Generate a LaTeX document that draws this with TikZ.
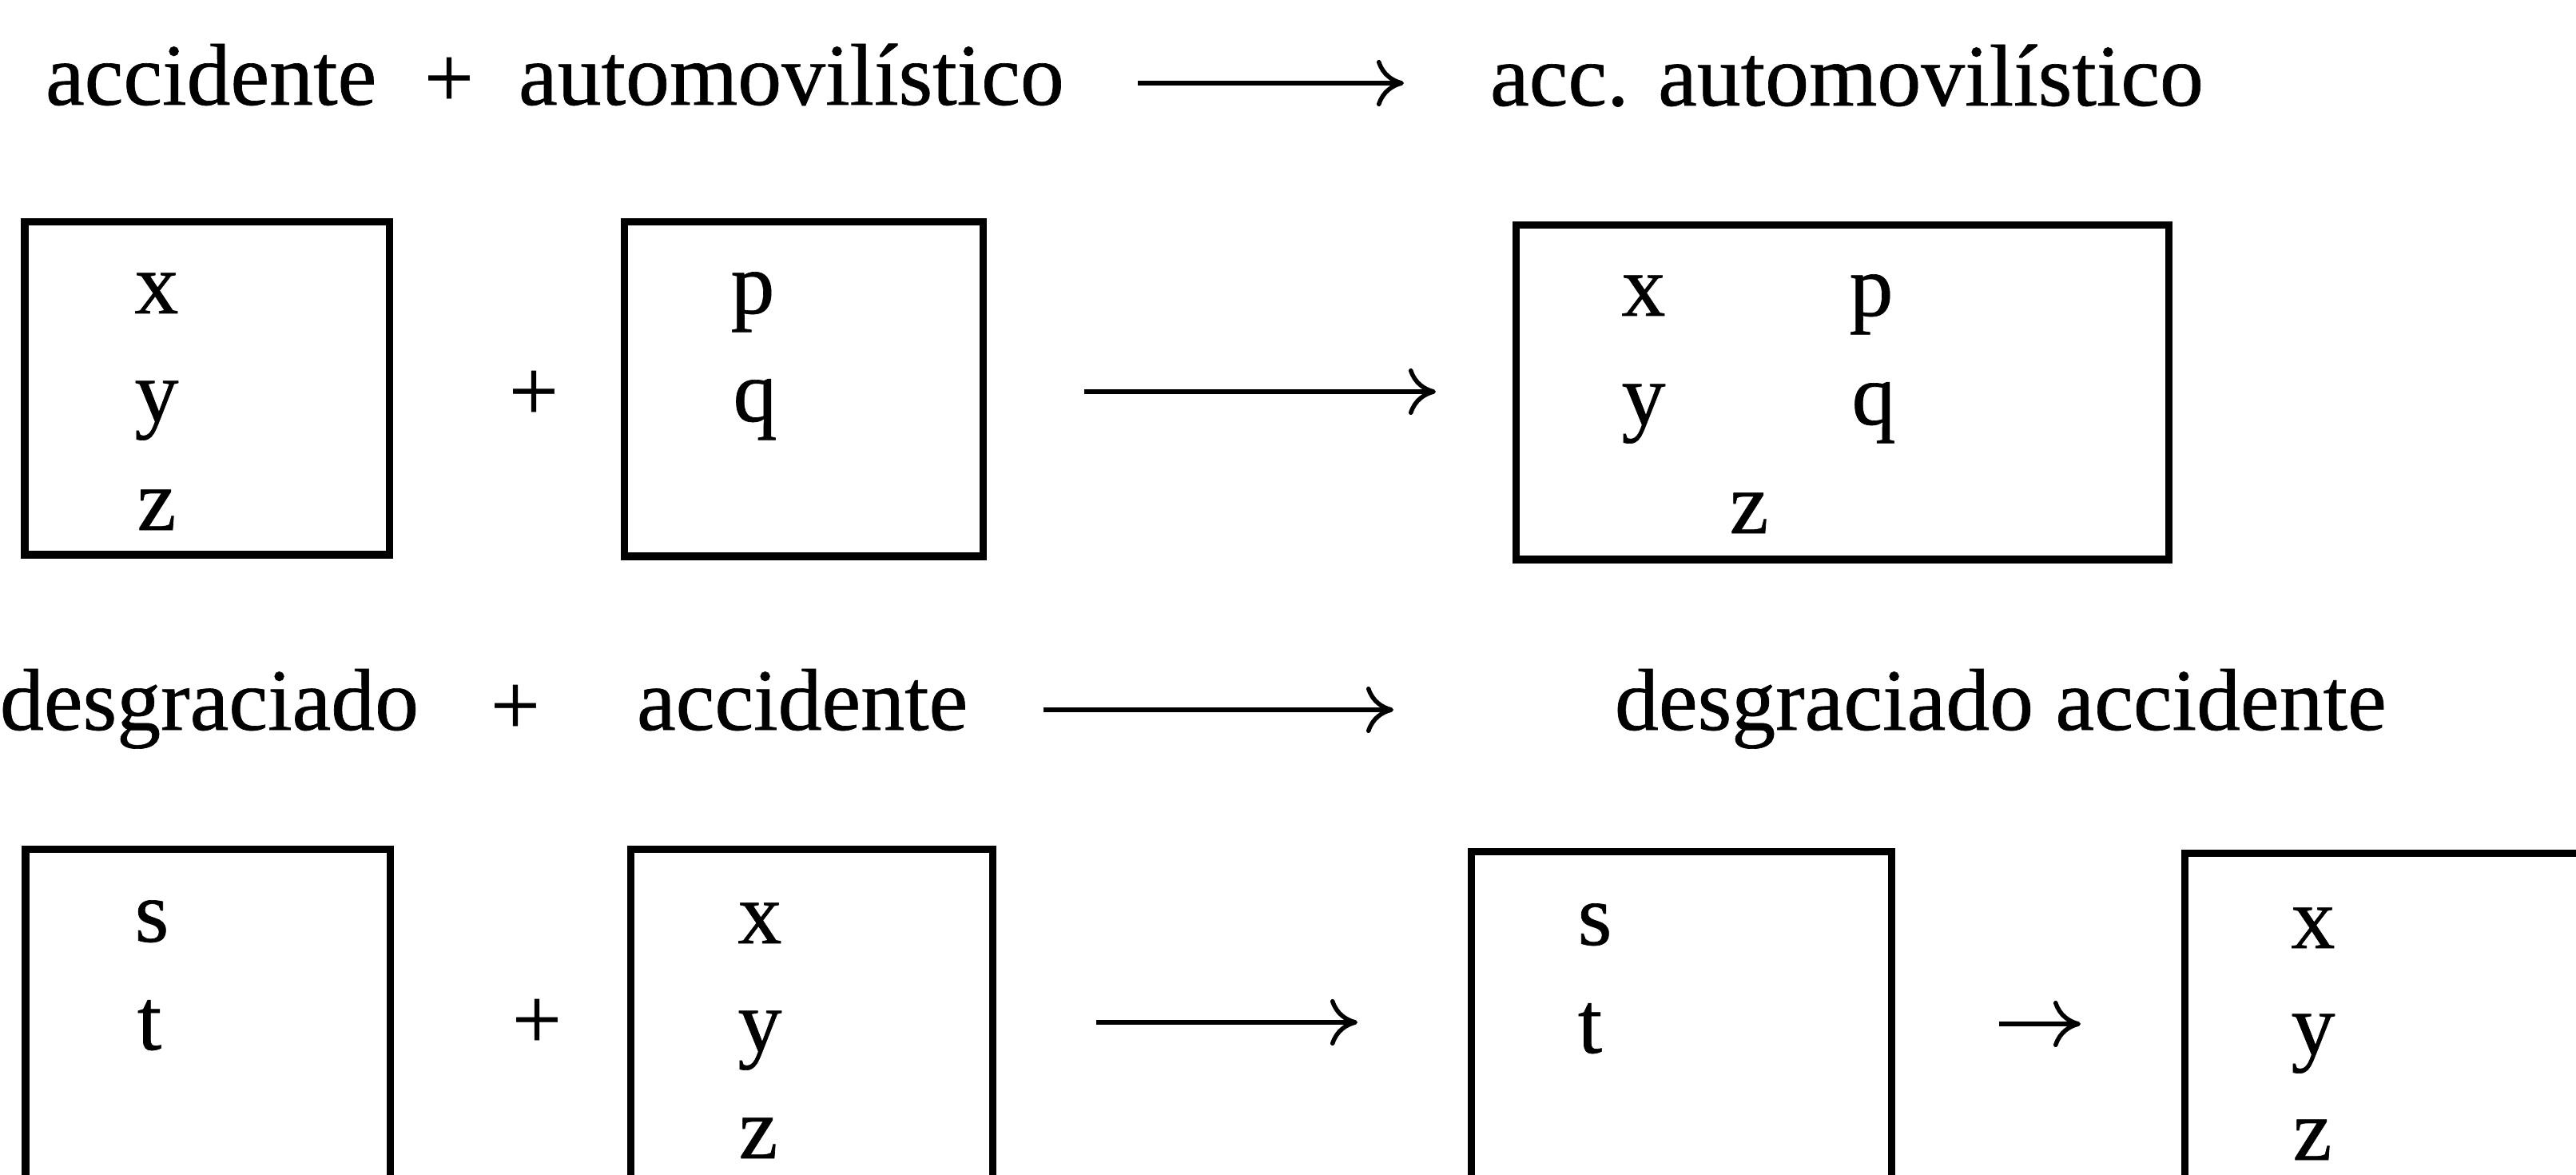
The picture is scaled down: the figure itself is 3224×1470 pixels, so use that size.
\documentclass[tikz,border=0pt]{standalone}
\usepackage{fontspec}
\setmainfont[FakeBold=0.6]{Liberation Serif}
\usetikzlibrary{arrows.meta,fit}
\begin{document}
\begin{tikzpicture}[x=0.01cm,y=-0.01cm,
  every node/.style={inner sep=0pt, outer sep=0pt, font=\fontsize{31.2}{37}\selectfont},
  word/.style={anchor=base west},
  letter/.style={anchor=base},
  plus/.style={anchor=center},
  box/.style={draw, line width=0.09cm, inner sep=0pt},
  arr/.style={line width=0.055cm, -{Computer Modern Rightarrow[length=3.4mm,width=5.8mm]}}]
\useasboundingbox (0,0) rectangle (3224,1470);
\clip (0,0) rectangle (3224,1470);

% ---- row 1 ----
\node[word] (w1) at (57,131) {accidente};
\node[plus] (p1) at (562,103) {+};
\node[word] (w2) at (649,131) {automovilístico};
\coordinate (a1s) at (1424,104);
\coordinate (a1e) at (1757,104);
\draw[arr] (a1s) -- (a1e);
\node[word] (w3) at (1865,132) {acc. automovilístico};

% ---- row 2 ----
\node[box, fit={(31,278) (487,694)}] (b1) {};
\node[letter] (b1x) at (196,392) {x};
\node[letter] (b1y) at (196,527) {y};
\node[letter] (b1z) at (196,663) {z};
\node[plus] (p2) at (668,495) {+};
\node[box, fit={(781,278) (1230,696)}] (b2) {};
\node[letter] (b2p) at (942,392) {p};
\node[letter] (b2q) at (945,527) {q};
\coordinate (a2s) at (1357,490);
\coordinate (a2e) at (1797,490);
\draw[arr] (a2s) -- (a2e);
\node[box, fit={(1897,282) (2714,700)}] (b3) {};
\node[letter] (b3x) at (2057,395) {x};
\node[letter] (b3p) at (2342,395) {p};
\node[letter] (b3y) at (2057,531) {y};
\node[letter] (b3q) at (2345,531) {q};
\node[letter] (b3z) at (2189,667) {z};

% ---- row 3 ----
\node[word] (w4) at (0,913) {desgraciado};
\node[plus] (p3) at (645,888) {+};
\node[word] (w5) at (797,913) {accidente};
\coordinate (a3s) at (1306,888);
\coordinate (a3e) at (1744,888);
\draw[arr] (a3s) -- (a3e);
\node[word] (w6) at (2021,913) {desgraciado accidente};

% ---- row 4 ----
\node[box, fit={(32,1062) (488,1600)}] (b4) {};
\node[letter] (b4s) at (190,1178) {s};
\node[letter] (b4t) at (187,1313) {t};
\node[plus] (p4) at (672,1281) {+};
\node[box, fit={(789,1062) (1242,1600)}] (b5) {};
\node[letter] (b5x) at (951,1180) {x};
\node[letter] (b5y) at (951,1315) {y};
\node[letter] (b5z) at (949,1449) {z};
\coordinate (a4s) at (1372,1279);
\coordinate (a4e) at (1699,1279);
\draw[arr] (a4s) -- (a4e);
\node[box, fit={(1841,1065) (2367,1600)}] (b6) {};
\node[letter] (b6s) at (1996,1182) {s};
\node[letter] (b6t) at (1990,1317) {t};
\coordinate (a5s) at (2502,1281);
\coordinate (a5e) at (2604,1281);
\draw[arr] (a5s) -- (a5e);
\node[box, fit={(2734,1067) (3400,1600)}] (b7) {};
\node[letter] (b7x) at (2895,1186) {x};
\node[letter] (b7y) at (2895,1319) {y};
\node[letter] (b7z) at (2894,1451) {z};
\end{tikzpicture}
\end{document}
